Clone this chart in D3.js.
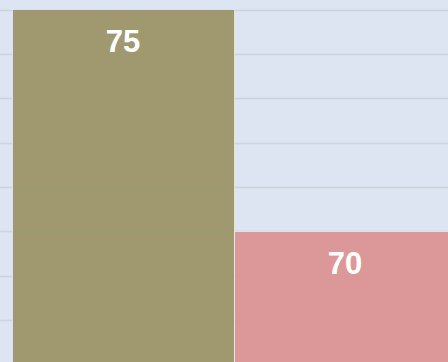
<!DOCTYPE html>
<html>
<head>
<meta charset="utf-8">
<script src="https://cdn.jsdelivr.net/npm/d3@7"></script>
<style>
  html, body { margin: 0; padding: 0; background: #dde6f2; }
  svg { display: block; }
</style>
</head>
<body>
<svg id="chart" width="448" height="362"></svg>
<script>
// Chart data
const categories = ["A", "B"];
const values = [75, 70];
const barColors = ["#9c9568", "#db9393"];
const gridTicks = [67, 68, 69, 70, 71, 72, 73, 74, 75];

const width = 448, height = 362;
const svg = d3.select("#chart");

// Visible window of the value axis
const y = d3.scaleLinear().domain([67.06, 75.214]).range([height, 0]);
const x = d3.scaleBand().domain(categories).range([12, 456]).padding(0);

svg.append("rect")
  .attr("width", width).attr("height", height)
  .attr("fill", "#dce5f1");

// Horizontal gridlines
svg.append("g")
  .selectAll("line")
  .data(gridTicks)
  .join("line")
  .attr("x1", 0).attr("x2", width)
  .attr("y1", d => Math.round(y(d)) + 0.5)
  .attr("y2", d => Math.round(y(d)) + 0.5)
  .attr("stroke", "#cbd4e0")
  .attr("stroke-width", 1.5);

// Bars
const data = categories.map((c, i) => ({ c, v: values[i], color: barColors[i] }));

svg.append("g")
  .selectAll("rect")
  .data(data)
  .join("rect")
  .attr("x", d => x(d.c) + 0.5)
  .attr("y", d => y(d.v))
  .attr("width", x.bandwidth())
  .attr("height", d => height + 10 - y(d.v))
  .attr("fill", d => d.color)
  .attr("fill-opacity", 0.95)
  .attr("stroke", "rgba(255,255,255,0.55)")
  .attr("stroke-width", 1);

// Value labels
svg.append("g")
  .selectAll("text")
  .data(data)
  .join("text")
  .attr("x", d => x(d.c) + x.bandwidth() / 2)
  .attr("y", d => y(d.v) + 42.5)
  .attr("text-anchor", "middle")
  .attr("font-family", "'Liberation Sans', Arial, sans-serif")
  .attr("font-weight", "bold")
  .attr("font-size", 31)
  .attr("fill", "#ffffff")
  .text(d => d.v);
</script>
</body>
</html>
